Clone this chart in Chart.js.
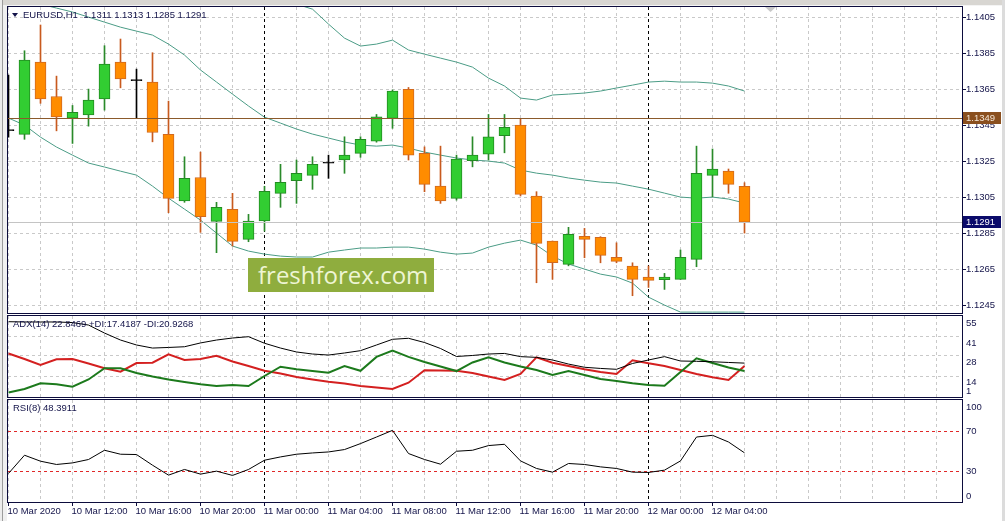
<!DOCTYPE html>
<html>
<head>
<meta charset="utf-8">
<script src="https://cdn.jsdelivr.net/npm/chart.js@4.4.1/dist/chart.umd.min.js"></script>
<style>
  html, body { margin: 0; padding: 0; background: #fff; }
  #wrap { position: relative; width: 1005px; height: 521px; overflow: hidden; background: #fff; }
  #wrap canvas { position: absolute; left: 0; }
  .bar { position: absolute; background: #d8d6d2; }
  #wm { position: absolute; left: 248px; top: 258px; width: 186px; height: 34px; box-sizing: border-box;
        padding-left: 10px; background: #8fad3e; color: #eef5d4; font: 24px "Open Sans", sans-serif; line-height: 34px; }
</style>
</head>
<body>
<div id="wrap">
  <div class="bar" style="left:0;top:0;width:1005px;height:5px;border-bottom:1px solid #f4f4f4"></div>
  <div class="bar" style="left:0;top:0;width:2px;height:521px;background:#ececec"></div>
  <div class="bar" style="left:2px;top:0;width:1px;height:521px;background:#9c9c9c"></div>
  <div class="bar" style="left:3px;top:5px;width:4px;height:516px;background:#f0f0f0"></div>
  <div class="bar" style="left:1002px;top:0;width:3px;height:521px;background:#dcdcdc"></div>
  <canvas id="price" width="1005" height="314" style="top:0"></canvas>
  <canvas id="adx" width="1005" height="84" style="top:314px"></canvas>
  <canvas id="rsi" width="1005" height="123" style="top:398px"></canvas>
  <div id="wm">freshforex.com</div>
</div>
<script>
// EURUSD H1, 10 Mar 08:00 .. 12 Mar 06:00 (bar index 0..46)
const xLabels = ['10 Mar 2020', '10 Mar 12:00', '10 Mar 16:00', '10 Mar 20:00', '11 Mar 00:00', '11 Mar 04:00',
                 '11 Mar 08:00', '11 Mar 12:00', '11 Mar 16:00', '11 Mar 20:00', '12 Mar 00:00', '12 Mar 04:00'];
const xLabelBars = [0, 4, 8, 12, 16, 20, 24, 28, 32, 36, 40, 44];
const daySepBars = [16, 40];

const opens  = [1.13422, 1.13398, 1.13800, 1.13609, 1.13489, 1.13507, 1.13596, 1.13800, 1.13700, 1.13689,
                1.13398, 1.13029, 1.13159, 1.12915, 1.12982, 1.12815, 1.12918, 1.13071, 1.13141, 1.13171,
                1.13241, 1.13256, 1.13293, 1.13361, 1.13487, 1.13648, 1.13293, 1.13111, 1.13043, 1.13252,
                1.13289, 1.13391, 1.13450, 1.13056, 1.12806, 1.12676, 1.12832, 1.12826, 1.12715, 1.12667,
                1.12606, 1.12591, 1.12593, 1.12704, 1.13171, 1.13194, 1.13110];
const highs  = [1.13728, 1.13863, 1.14006, 1.13722, 1.13559, 1.13650, 1.13891, 1.13928, 1.13761, 1.13852,
                1.13583, 1.13274, 1.13300, 1.13021, 1.13071, 1.12954, 1.13110, 1.13232, 1.13256, 1.13274,
                1.13283, 1.13385, 1.13385, 1.13509, 1.13645, 1.13659, 1.13329, 1.13333, 1.13283, 1.13385,
                1.13509, 1.13509, 1.13487, 1.13080, 1.12806, 1.12882, 1.12876, 1.12830, 1.12796, 1.12685,
                1.12667, 1.12626, 1.12756, 1.13333, 1.13317, 1.13206, 1.13130];
const lows   = [1.13383, 1.13371, 1.13571, 1.13418, 1.13348, 1.13444, 1.13533, 1.13657, 1.13487, 1.13357,
                1.12963, 1.13021, 1.12854, 1.12741, 1.12778, 1.12802, 1.12861, 1.12993, 1.13015, 1.13093,
                1.13154, 1.13182, 1.13271, 1.13355, 1.13432, 1.13256, 1.13080, 1.13015, 1.13033, 1.13218,
                1.13256, 1.13296, 1.13056, 1.12574, 1.12593, 1.12668, 1.12713, 1.12685, 1.12685, 1.12502,
                1.12548, 1.12537, 1.12593, 1.12663, 1.13052, 1.13071, 1.12850];
const closes = [1.13422, 1.13811, 1.13596, 1.13496, 1.13521, 1.13589, 1.13789, 1.13707, 1.13700, 1.13409,
                1.13043, 1.13154, 1.12941, 1.12993, 1.12804, 1.12917, 1.13082, 1.13132, 1.13182, 1.13232,
                1.13241, 1.13283, 1.13371, 1.13496, 1.13639, 1.13283, 1.13121, 1.13029, 1.13261, 1.13283,
                1.13385, 1.13437, 1.13065, 1.12793, 1.12685, 1.12843, 1.12815, 1.12726, 1.12693, 1.12593,
                1.12587, 1.12606, 1.12715, 1.13182, 1.13206, 1.13121, 1.12910];

const bbUpper  = [1.14839, 1.14811, 1.14756, 1.14700, 1.14656, 1.14617, 1.14578, 1.14533, 1.14478, 1.14450,
                  1.14422, 1.14394, 1.14356, 1.14311, 1.14267, 1.14222, 1.14178, 1.14144, 1.14122, 1.14094,
                  1.14011, 1.13933, 1.13889, 1.13900, 1.13922, 1.13867, 1.13844, 1.13822, 1.13800, 1.13772,
                  1.13711, 1.13667, 1.13600, 1.13589, 1.13617, 1.13622, 1.13628, 1.13639, 1.13656, 1.13672,
                  1.13689, 1.13694, 1.13689, 1.13689, 1.13683, 1.13667, 1.13639];
const bbMiddle = [1.14172, 1.14144, 1.14122, 1.14100, 1.14078, 1.14050, 1.14022, 1.13994, 1.13972, 1.13950,
                  1.13900, 1.13839, 1.13756, 1.13689, 1.13622, 1.13556, 1.13494, 1.13461, 1.13428, 1.13400,
                  1.13378, 1.13356, 1.13339, 1.13333, 1.13339, 1.13322, 1.13300, 1.13283, 1.13267, 1.13256,
                  1.13250, 1.13239, 1.13200, 1.13183, 1.13172, 1.13156, 1.13144, 1.13133, 1.13128, 1.13111,
                  1.13094, 1.13072, 1.13050, 1.13044, 1.13050, 1.13039, 1.13017];
const bbLower  = [1.13489, 1.13450, 1.13383, 1.13328, 1.13283, 1.13239, 1.13217, 1.13194, 1.13172, 1.13111,
                  1.13044, 1.12983, 1.12922, 1.12850, 1.12778, 1.12750, 1.12733, 1.12722, 1.12717, 1.12717,
                  1.12744, 1.12756, 1.12767, 1.12767, 1.12772, 1.12772, 1.12761, 1.12744, 1.12733, 1.12739,
                  1.12772, 1.12794, 1.12811, 1.12783, 1.12722, 1.12678, 1.12650, 1.12622, 1.12606, 1.12572,
                  1.12494, 1.12450, 1.12411, 1.12411, 1.12411, 1.12411, 1.12411];

const adxMain = [51.3, 51.1, 51.1, 51.1, 50.7, 49.0, 43.5, 38.7, 35.3, 33.2,
                 33.6, 34.1, 36.7, 38.7, 40.1, 41.0, 36.5, 33.2, 30.5, 29.1,
                 28.4, 29.8, 31.4, 35.3, 39.2, 39.9, 37.0, 32.9, 27.4, 28.1,
                 29.1, 29.5, 27.3, 26.8, 25.0, 22.2, 20.0, 19.2, 18.6, 22.6,
                 25.0, 27.3, 24.3, 24.1, 23.8, 23.3, 22.85];
const plusDI  = [2.7, 5.1, 9.0, 8.3, 6.7, 11.6, 19.3, 19.3, 16.1, 13.7,
                 11.6, 9.9, 8.3, 7.1, 7.8, 7.1, 14.0, 20.4, 18.6, 17.4,
                 16.3, 20.9, 17.6, 27.1, 31.4, 27.1, 23.6, 20.5, 17.4, 23.3,
                 26.8, 23.3, 20.5, 18.1, 14.7, 17.4, 14.7, 11.9, 10.6, 9.0,
                 7.8, 7.3, 16.8, 26.2, 22.9, 19.8, 17.42];
const minusDI = [29.5, 25.7, 21.6, 25.5, 25.7, 22.6, 19.3, 17.0, 22.9, 23.1,
                 28.9, 25.0, 25.7, 27.9, 24.0, 20.9, 17.6, 15.7, 13.3, 11.6,
                 10.1, 8.9, 7.1, 6.1, 5.1, 9.4, 17.9, 17.8, 17.6, 16.1,
                 13.7, 11.3, 15.4, 26.8, 23.1, 20.9, 18.6, 16.8, 15.4, 24.8,
                 22.7, 20.9, 18.1, 15.4, 13.1, 11.3, 20.93];

const rsi = [27.7, 46.0, 40.0, 36.7, 38.3, 41.7, 51.0, 47.0, 46.7, 36.0,
             26.0, 31.7, 27.0, 30.0, 25.7, 31.7, 41.0, 44.3, 47.0, 48.3,
             49.3, 51.7, 57.7, 64.3, 71.0, 47.7, 41.7, 37.0, 50.0, 51.0,
             55.7, 57.0, 40.3, 32.7, 29.0, 37.7, 36.7, 34.3, 32.7, 29.0,
             28.7, 31.0, 40.3, 64.3, 66.0, 59.3, 48.4];

const priceTicks = [1.1405, 1.1385, 1.1365, 1.1345, 1.1325, 1.1305, 1.1285, 1.1265, 1.1245];
const adxTicks = [55, 41, 28, 14, 1];
const adxGrid = [41, 28, 14];
const rsiTicks = [100, 70, 30, 0];
const rsiLevels = [70, 30];
const markLevel = 1.1349;
const lastPrice = 1.1291;

const X_MIN = -0.03125, X_MAX = 59.59375;
const gridBars = Array.from({ length: 30 }, (_, k) => k * 2);
const ink = '#14144a';
const font = '9.5px "Liberation Sans", Arial, sans-serif';

function series(arr) { return arr.map((v, i) => ({ x: i, y: v })); }

function xScale() {
  return {
    type: 'linear', min: X_MIN, max: X_MAX, offset: false,
    afterFit: s => { s.height = 0; },
    afterBuildTicks: s => { s.ticks = gridBars.map(v => ({ value: v })); },
    ticks: { display: false },
    grid: { color: '#c9c9c9', drawTicks: false, offset: false },
    border: { display: false, dash: [3, 3] }
  };
}
function yScale(min, max, gridTicks) {
  return {
    type: 'linear', position: 'right', min: min, max: max,
    afterFit: s => { s.width = 0; },
    afterBuildTicks: s => { s.ticks = gridTicks.map(v => ({ value: v })); },
    ticks: { display: false },
    grid: { color: '#c9c9c9', drawTicks: false },
    border: { display: false, dash: [3, 3] }
  };
}
function baseOptions(pad, y) {
  return {
    responsive: false, animation: false, devicePixelRatio: 1, events: [],
    layout: { padding: pad },
    plugins: { legend: { display: false }, tooltip: { enabled: false } },
    scales: { x: xScale(), y: y }
  };
}
function lineSet(arr, color, width) {
  return { type: 'line', data: series(arr), borderColor: color, borderWidth: width,
           pointRadius: 0, tension: 0, clip: 0 };
}

function frame(chart) {
  const a = chart.chartArea, c = chart.ctx;
  c.save();
  c.strokeStyle = '#0c0c3c'; c.lineWidth = 1;
  c.strokeRect(Math.round(a.left) - 0.5, Math.round(a.top) - 0.5,
               Math.round(a.right - a.left) + 1, Math.round(a.bottom - a.top) + 1);
  c.restore();
}
function daySeparators(chart) {
  const { ctx, chartArea: a, scales: { x } } = chart;
  ctx.save();
  ctx.strokeStyle = '#000'; ctx.lineWidth = 1; ctx.setLineDash([3, 3]);
  daySepBars.forEach(b => {
    const px = Math.round(x.getPixelForValue(b) - 0.5) + 0.5;
    ctx.beginPath(); ctx.moveTo(px, a.top); ctx.lineTo(px, a.bottom); ctx.stroke();
  });
  ctx.restore();
}
function rightTick(ctx, a, py) {
  ctx.beginPath(); ctx.moveTo(a.right, py); ctx.lineTo(a.right + 4, py); ctx.stroke();
}
function caption(chart, text, dy) {
  const c = chart.ctx, a = chart.chartArea;
  c.save(); c.font = font; c.fillStyle = ink; c.textBaseline = 'middle';
  c.fillText(text, a.left + 5, a.top + dy);
  c.restore();
}

// candle bodies & wicks
const bodies = opens.map((o, i) => {
  const c = closes[i];
  return { x: i, y: o === c ? [o - 0.00003, o + 0.00003] : [o, c] };
});
const wicks = lows.map((l, i) => ({ x: i, y: [l, highs[i]] }));
const kind = opens.map((o, i) => closes[i] > o ? 'up' : (closes[i] < o ? 'down' : 'doji'));
const bodyFill = { up: '#32cd32', down: '#ff8c00', doji: '#000' };
const bodyEdge = { up: '#228b22', down: '#d2691e', doji: '#000' };
const wickColor = { up: '#2a8a2a', down: '#c85a1e', doji: '#000' };

new Chart(document.getElementById('price'), {
  type: 'bar',
  data: {
    datasets: [
      { data: bodies, backgroundColor: kind.map(k => bodyFill[k]), borderColor: kind.map(k => bodyEdge[k]),
        borderWidth: 1, borderSkipped: false, barThickness: 11, grouped: false, clip: 0 },
      { data: wicks, backgroundColor: kind.map(k => wickColor[k]), borderWidth: 0,
        barThickness: 1, grouped: false, clip: 0 },
      lineSet(bbUpper, '#4b9c86', 1),
      lineSet(bbMiddle, '#4b9c86', 1),
      lineSet(bbLower, '#4b9c86', 1)
    ]
  },
  options: baseOptions({ left: 8, right: 43, top: 7, bottom: 1 },
                       yScale(1.12406, 1.14106, priceTicks)),
  plugins: [{
    id: 'pricePanel',
    beforeDatasetsDraw: daySeparators,
    afterDatasetsDraw(chart) {
      const { ctx, chartArea: a, scales: { y } } = chart;
      ctx.save();
      ctx.lineWidth = 1;
      ctx.strokeStyle = '#c4c4c4';
      let py = Math.round(y.getPixelForValue(lastPrice)) + 0.5;
      ctx.beginPath(); ctx.moveTo(a.left, py); ctx.lineTo(a.right, py); ctx.stroke();
      ctx.strokeStyle = '#8b5a2b';
      py = Math.round(y.getPixelForValue(markLevel)) + 0.5;
      ctx.beginPath(); ctx.moveTo(a.left, py); ctx.lineTo(a.right, py); ctx.stroke();
      ctx.restore();
    },
    afterDraw(chart) {
      const { ctx, chartArea: a, scales: { y } } = chart;
      frame(chart);
      ctx.save();
      ctx.font = font; ctx.textBaseline = 'middle'; ctx.fillStyle = ink; ctx.strokeStyle = '#0c0c3c';
      priceTicks.forEach(v => {
        const py = Math.round(y.getPixelForValue(v)) + 0.5;
        rightTick(ctx, a, py);
        ctx.fillText(v.toFixed(4), a.right + 4, py);
      });
      [[markLevel, '#8a4f1e', '#f4e6d6'], [lastPrice, '#0b0b6a', '#ffffff']].forEach(([v, bg, fg]) => {
        const py = Math.round(y.getPixelForValue(v));
        ctx.fillStyle = bg; ctx.fillRect(a.right + 1, py - 6, 38, 12);
        ctx.fillStyle = fg; ctx.fillText(v.toFixed(4), a.right + 4, py + 0.5);
      });
      // header
      ctx.fillStyle = ink;
      ctx.beginPath(); ctx.moveTo(a.left + 4, a.top + 6); ctx.lineTo(a.left + 10, a.top + 6);
      ctx.lineTo(a.left + 7, a.top + 10); ctx.closePath(); ctx.fill();
      ctx.fillText('EURUSD,H1  1.1311 1.1313 1.1285 1.1291', a.left + 15, a.top + 8);
      // chart shift marker
      ctx.fillStyle = '#c8c8c8';
      ctx.beginPath(); ctx.moveTo(765, a.top); ctx.lineTo(776, a.top); ctx.lineTo(770.5, a.top + 5);
      ctx.closePath(); ctx.fill();
      ctx.restore();
    }
  }]
});

new Chart(document.getElementById('adx'), {
  type: 'line',
  data: {
    datasets: [
      lineSet(adxMain, '#000000', 1),
      lineSet(plusDI, '#1c7a1c', 2),
      lineSet(minusDI, '#d42020', 2)
    ]
  },
  options: baseOptions({ left: 8, right: 43, top: 2, bottom: 1 }, yScale(-0.42, 55.21, adxGrid)),
  plugins: [{
    id: 'adxPanel',
    beforeDatasetsDraw: daySeparators,
    afterDraw(chart) {
      const { ctx, chartArea: a, scales: { y } } = chart;
      frame(chart);
      ctx.save();
      ctx.font = font; ctx.fillStyle = ink;
      adxTicks.forEach((v, i) => {
        const py = y.getPixelForValue(v);
        const last = i === adxTicks.length - 1;
        ctx.textBaseline = last ? 'bottom' : 'top';
        ctx.fillText(String(v), a.right + 4, last ? py + 1 : py + 2);
      });
      ctx.restore();
      caption(chart, 'ADX(14) 22.8469 +DI:17.4187 -DI:20.9268', 8);
    }
  }]
});

new Chart(document.getElementById('rsi'), {
  type: 'line',
  data: { datasets: [lineSet(rsi, '#000000', 1)] },
  options: baseOptions({ left: 8, right: 43, top: 2, bottom: 19 }, yScale(-1, 101.5, rsiLevels)),
  plugins: [{
    id: 'rsiPanel',
    beforeDatasetsDraw(chart) {
      const { ctx, chartArea: a, scales: { y } } = chart;
      daySeparators(chart);
      ctx.save();
      ctx.strokeStyle = '#e02828'; ctx.lineWidth = 1; ctx.setLineDash([3, 3]);
      rsiLevels.forEach(v => {
        const py = Math.round(y.getPixelForValue(v) - 0.5) + 0.5;
        ctx.beginPath(); ctx.moveTo(a.left, py); ctx.lineTo(a.right, py); ctx.stroke();
      });
      ctx.restore();
    },
    afterDraw(chart) {
      const { ctx, chartArea: a, scales: { x, y } } = chart;
      frame(chart);
      ctx.save();
      ctx.font = font; ctx.fillStyle = ink; ctx.strokeStyle = '#0c0c3c'; ctx.lineWidth = 1;
      rsiTicks.forEach((v, i) => {
        const py = y.getPixelForValue(v);
        if (i === 0) { ctx.textBaseline = 'top'; ctx.fillText(String(v), a.right + 4, py + 1); }
        else if (i === rsiTicks.length - 1) { ctx.textBaseline = 'bottom'; ctx.fillText(String(v), a.right + 4, py); }
        else { ctx.textBaseline = 'middle'; ctx.fillText(String(v), a.right + 4, py + 0.5); }
      });
      ctx.textBaseline = 'middle';
      xLabelBars.forEach((b, i) => {
        const px = Math.round(x.getPixelForValue(b) - 0.5) + 0.5;
        ctx.beginPath(); ctx.moveTo(px, a.bottom); ctx.lineTo(px, a.bottom + 4); ctx.stroke();
        ctx.fillText(xLabels[i], px - 1, a.bottom + 9);
      });
      ctx.restore();
      caption(chart, 'RSI(8) 48.3911', 8);
    }
  }]
});
</script>
</body>
</html>
